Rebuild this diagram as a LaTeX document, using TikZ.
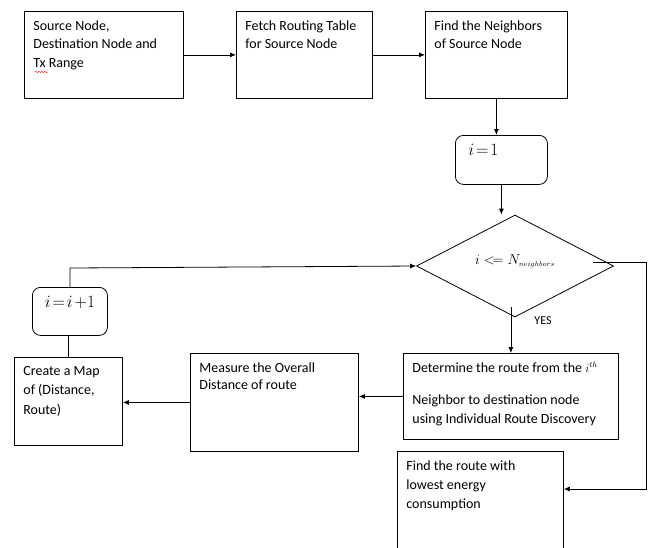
\documentclass[tikz,border=0pt]{standalone}
\usepackage{fontspec}
\setmainfont{Carlito}
\usetikzlibrary{arrows.meta,shapes.geometric,decorations.pathmorphing}
\tikzset{>={Latex[length=6pt,width=5pt]},every node/.style={font=\fontsize{14}{18.5}\selectfont},
  blk/.style={draw,line width=.8pt,anchor=north west,inner xsep=9pt,inner ysep=9pt},
  rblk/.style={blk,rounded corners=8pt,font=\fontsize{16}{18}\selectfont},
  flow/.style={line width=.8pt,->},edge/.style={line width=.8pt}}
\newcommand{\txt}[3]{\parbox[c][#2pt][t]{#1pt}{\raggedright #3}}

\begin{document}
\begin{tikzpicture}[x=1pt,y=-1pt]
\useasboundingbox (0,0) rectangle (652,547);
\clip (0,0) rectangle (652,547);
% top row
\node[blk] (src) at (24,11) {\txt{141}{69}{Source Node,\\Destination Node and\\Tx Range}};
\node[blk] (fetch) at (236,11) {\txt{118}{69}{Fetch Routing Table\\for Source Node}};
\node[blk] (nbr) at (425,11) {\txt{124}{69}{Find the Neighbors\\of Source Node}};
\draw[red,decorate,decoration={snake,amplitude=.7pt,segment length=3pt}] (35,72)--(48,72);
% loop
\node[rblk] (init) at (455,135) {\txt{74}{31}{\hspace*{4pt}$i\mkern2mu{=}\mkern2mu1$}};
\node[draw,line width=.8pt,diamond,aspect=1.93,minimum width=197pt,minimum height=102pt,inner sep=0pt] (dec) at (515,266)
  {\raisebox{13pt}{$i\mathrel{<\!=}N_{\scriptscriptstyle neighbors}$}};
\node (yes) at (543,321) {\fontsize{12}{14}\selectfont YES};
\node[blk] (det) at (403,353) {\txt{197}{68}{Determine the route from the {\large$i^{th}$}\\[14pt]Neighbor to destination node\\using Individual Route Discovery}};
\node[blk] (meas) at (190,353) {\txt{150}{80}{\baselineskip=17pt Measure the Overall\\Distance of route}};
\node[blk] (map) at (14,357) {\txt{90}{70}{\baselineskip=19.5pt Create a Map\\of (Distance,\\Route)}};
\node[rblk] (inc) at (32,287) {\txt{57}{30}{\centering$i\mkern2mu{=}\mkern2mu i\mkern2mu{+}1$}};
\node[blk] (best) at (397,451) {\txt{148}{102}{\baselineskip=19pt Find the route with\\lowest energy\\consumption}};
% connectors
\draw[flow] (src.east)--(fetch.west);
\draw[flow] (fetch.east)--(nbr.west);
\draw[flow] (nbr.south)--(nbr.south |- init.north);
\draw[flow] (init.south)--(init.south |- dec.north);
\draw[flow] ([yshift=10pt]det.north |- dec.south)--(det.north);
\draw[flow] ([shift={(-21,-4)}]dec.east)--++(53,0) |- ([yshift=-38pt]best.north east);
\draw[flow] (det.west)--(det.west -| meas.east);
\draw[flow] (meas.west)--(meas.west -| map.east);
\draw[edge] (map.north)--(map.north |- inc.south);
\draw[flow] (inc.north)--++(0,-19)--(dec.west);
\end{tikzpicture}
\end{document}
